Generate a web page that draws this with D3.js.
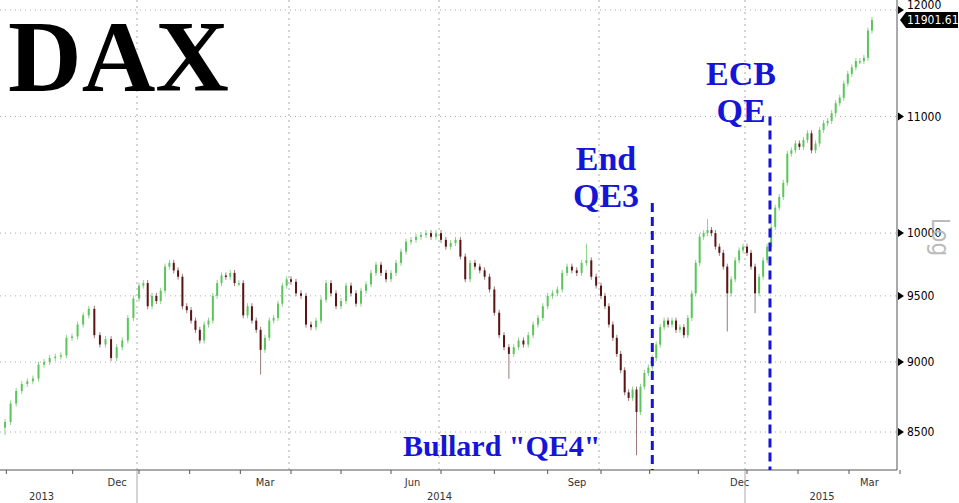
<!DOCTYPE html>
<html>
<head>
<meta charset="UTF-8">
<script src="https://cdn.jsdelivr.net/npm/d3@7"></script>
<style>
  body{margin:0;background:#fff;}
  svg text{font-family:"DejaVu Sans Condensed","DejaVu Sans",sans-serif;}
  svg text.serif{font-family:"Liberation Serif","DejaVu Serif",serif;font-weight:bold;}
</style>
</head>
<body>
<svg id="chart" width="959" height="503"></svg>
<script>
// closes per quarter segment (between the dotted vertical grid lines)
var q4_2013 = [8570,8700,8790,8840,8860,8880,8980,9000,9030,9040,9050,9180,9190,9280,9350,9400,9200,9130,9170,9030,9110,9160,9330,9480];
var q1_2014 = [9580,9600,9420,9500,9460,9540,9730,9760,9700,9650,9420,9390,9310,9240,9160,9280,9310,9500,9600,9660,9650,9680,9600,9600,9350,9420,9310,9240,9090,9180,9310,9330,9440,9580,9630];
var q2_2014 = [9610,9520,9500,9280,9260,9310,9470,9600,9520,9420,9460,9580,9520,9440,9540,9590,9680,9745,9680,9630,9680,9760,9850,9930,9945,9970,9985,10000,9970,10000];
var q3_2014 = [9945,9890,9920,9945,9810,9630,9760,9730,9700,9650,9550,9370,9200,9110,9060,9110,9160,9130,9200,9280,9330,9420,9500,9520,9550,9680,9730,9700,9680,9760,9780,9650,9580];
var q4_2014 = [9500,9420,9280,9180,9060,8940,8780,8740,8800,8640,8820,8920,8960,9030,9130,9260,9310,9280,9310,9240,9260,9200,9330,9520,9760,9970,10000,10025,10000,9890,9840,9730,9520,9630,9780,9860,9890];
var q1_2015 = [9840,9730,9520,9650,9780,9890,10050,10210,10300,10420,10670,10700,10760,10730,10790,10850,10700,10760,10880,10940,10960,11030,11120,11170,11300,11390,11450,11510,11510,11540,11800,11901.61];
var segments = [q4_2013,q1_2014,q2_2014,q3_2014,q4_2014,q1_2015];

// wick extremes [index, value]
var lowSpikes = [[0,8500],[52,8930],[103,8900],[131,8360],[154,9250],[161,9390]];
var highSpikes = [[119,9890],[149,10090]];

var yTicks = [8500,9000,9500,10000,11000,12000];
// label positions in segment units
var monthLabels = [["Dec",0.89],["Mar",1.83],["Jun",2.81],["Sep",3.85],["Dec",4.95],["Mar",5.8]];
var yearLabels = [["2013",0.51],["2014",2.99],["2015",5.49]];
var lastLabel = "11901.61";
// event lines: [candle index, top value]
var events = [[135,10250],[164.7,11000]];

var closes = [].concat.apply([], segments);
var bounds = [0];
segments.forEach(function(s){ bounds.push(bounds[bounds.length-1]+s.length); });

var svg = d3.select("#chart");
var axisX = 897, axisY = 470;

var x = d3.scaleLinear().domain(bounds).range([5,139,291,441,601,747,876]);
var seg = d3.scaleLinear().domain([0,1,2,3,4,5,6]).range([-60,139,291,441,601,747,900]);
var y = d3.scaleLog().domain([8500,12000]).range([432,10]);

// grid
svg.append("g").selectAll("line").data(yTicks).enter().append("line")
  .attr("x1",0).attr("x2",axisX).attr("y1",function(d){return y(d);}).attr("y2",function(d){return y(d);})
  .attr("stroke","#aaa").attr("stroke-dasharray","1,4");
svg.append("g").selectAll("line").data(bounds.slice(1,-1)).enter().append("line")
  .attr("x1",function(d){return x(d)-2;}).attr("x2",function(d){return x(d)-2;})
  .attr("y1",0).attr("y2",axisY)
  .attr("stroke","#aaa").attr("stroke-dasharray","2,4");

// candles
var lows = {}, highs = {};
lowSpikes.forEach(function(d){ lows[d[0]] = d[1]; });
highSpikes.forEach(function(d){ highs[d[0]] = d[1]; });
var candles = closes.map(function(c,i){
  var o = i ? closes[i-1] : c - 40;
  return {i:i, o:o, c:c, lo:lows[i]||Math.min(o,c), hi:highs[i]||Math.max(o,c)};
});
var g = svg.append("g");
g.selectAll("line.wick").data(candles).enter().append("line")
  .attr("x1",function(d){return x(d.i);}).attr("x2",function(d){return x(d.i);})
  .attr("y1",function(d){return y(d.hi)-3;}).attr("y2",function(d){return y(d.lo)+3;})
  .attr("stroke",function(d){return d.c>=d.o?"#8fd18f":"#9a7a7a";}).attr("stroke-width",1);
g.selectAll("rect").data(candles).enter().append("rect")
  .attr("x",function(d){return x(d.i)-1;}).attr("width",2)
  .attr("y",function(d){return y(Math.max(d.o,d.c));})
  .attr("height",function(d){return Math.max(1.5,Math.abs(y(d.o)-y(d.c)));})
  .attr("fill",function(d){return d.c>=d.o?"#5cc65c":"#5a1414";});

// axes
svg.append("line").attr("x1",0).attr("x2",axisX).attr("y1",axisY).attr("y2",axisY).attr("stroke","#555");
svg.append("line").attr("x1",axisX).attr("x2",axisX).attr("y1",0).attr("y2",axisY).attr("stroke","#555");
var yt = svg.append("g").selectAll("g").data(yTicks).enter().append("g")
  .attr("transform",function(d){return "translate("+axisX+","+y(d)+")";});
yt.append("path").attr("d","M1,-4L7,0L1,4Z").attr("fill","#000");
yt.append("text").attr("x",10).attr("dy",function(d){return d===12000?"-0.1em":"0.35em";})
  .attr("font-size",12).text(function(d){return d;});

// last value tag
var ly = y(closes[closes.length-1]);
svg.append("path").attr("d","M"+(axisX+3)+","+ly+"L"+(axisX+9)+","+(ly-8)+"H958V"+(ly+8)+"H"+(axisX+9)+"Z").attr("fill","#000");
svg.append("text").attr("x",axisX+10).attr("y",ly).attr("dy","0.35em").attr("fill","#fff").attr("font-size",12).text(lastLabel);

svg.append("text").attr("transform","translate(932,237) rotate(90)").attr("text-anchor","middle")
  .attr("font-size",24).attr("fill","#bbb").text("Log");

// bottom labels
svg.append("g").selectAll("text").data(monthLabels).enter().append("text")
  .attr("x",function(d){return seg(d[1]);}).attr("y",486).attr("text-anchor","middle")
  .attr("font-size",11).attr("fill","#333").text(function(d){return d[0];});
svg.append("g").selectAll("text").data(yearLabels).enter().append("text")
  .attr("x",function(d){return seg(d[1]);}).attr("y",500).attr("text-anchor","middle")
  .attr("font-size",11).attr("fill","#333").text(function(d){return d[0];});
[bounds[1],bounds[5]].forEach(function(b){
  svg.append("line").attr("x1",x(b)-2).attr("x2",x(b)-2).attr("y1",axisY).attr("y2",503).attr("stroke","#aaa");
});
svg.append("g").selectAll("line").data(d3.range(0,6.01,1/3)).enter().append("line")
  .attr("x1",function(d){return seg(d);}).attr("x2",function(d){return seg(d);})
  .attr("y1",axisY).attr("y2",axisY+4).attr("stroke","#555");

// annotations
svg.append("text").attr("class","serif").attr("x",8).attr("y",91)
  .attr("font-size",102).attr("fill","#000").text("DAX");
var blue = "#1515d8";
function note(lines, cx, top){
  lines.forEach(function(t,k){
    svg.append("text").attr("class","serif").attr("x",cx).attr("y",top+k*37).attr("text-anchor","middle")
      .attr("font-size",34).attr("fill",blue).text(t);
  });
}
note(["End","QE3"],606,170);
note(["ECB","QE"],741,85);
svg.append("text").attr("class","serif").attr("x",403).attr("y",456)
  .attr("font-size",30).attr("fill",blue).text("Bullard \"QE4\"");
events.forEach(function(d){
  svg.append("line").attr("x1",x(d[0])).attr("x2",x(d[0])).attr("y1",y(d[1])).attr("y2",axisY)
    .attr("stroke",blue).attr("stroke-width",3).attr("stroke-dasharray","9,5");
});
</script>
</body>
</html>
